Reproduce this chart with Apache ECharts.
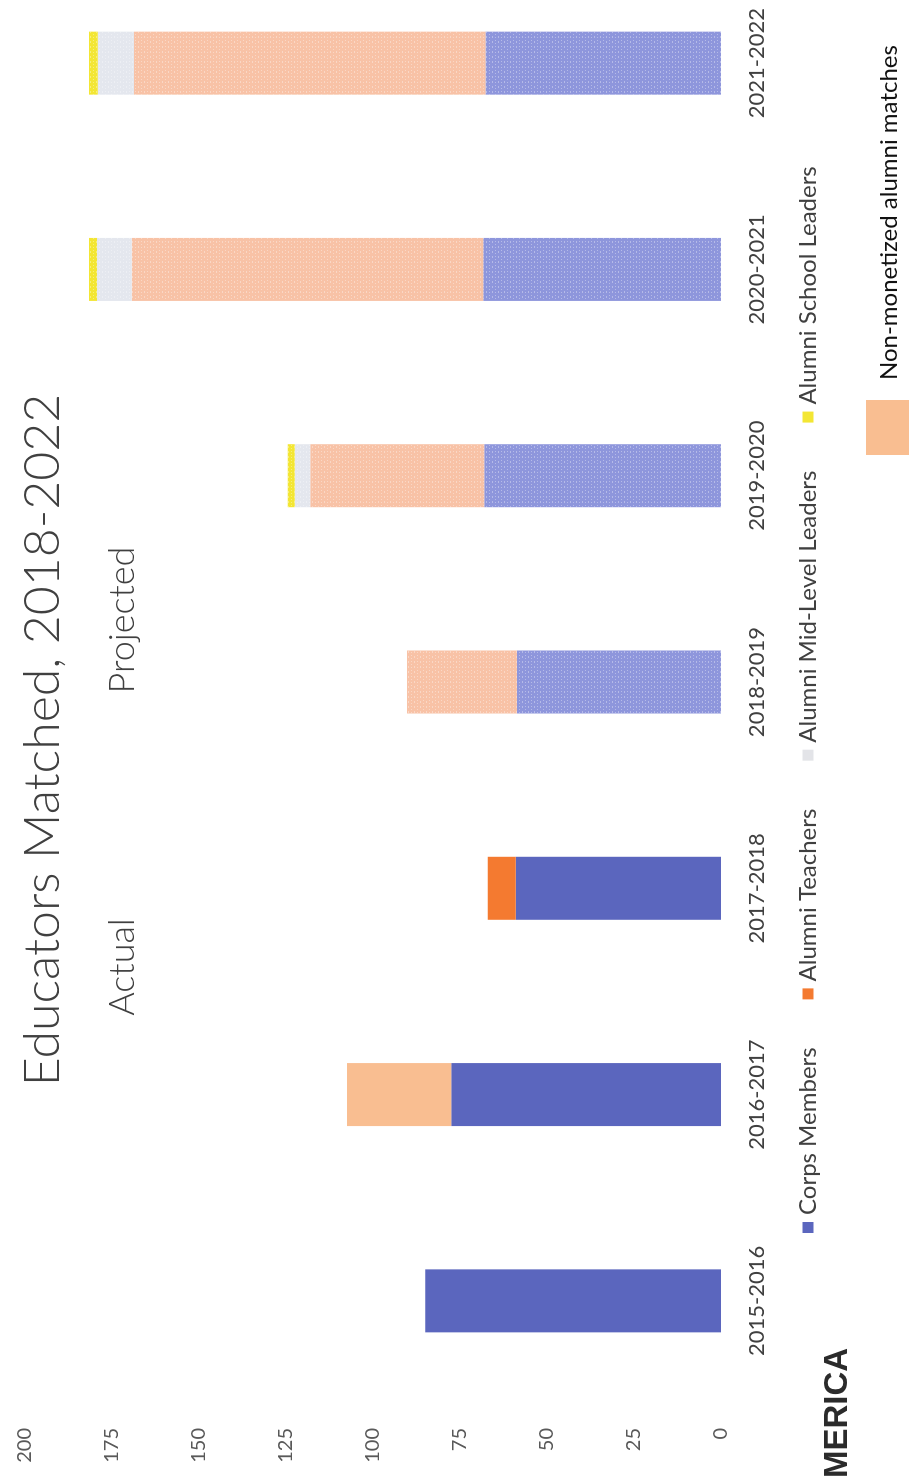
<!DOCTYPE html>
<html>
<head>
<meta charset="utf-8">
<script src="https://cdn.jsdelivr.net/npm/echarts@6/dist/echarts.min.js"></script>
<style>
  html, body { margin: 0; padding: 0; background: #ffffff; overflow: hidden; width: 909px; height: 1478px; }
  #chart { position: absolute; left: 0; top: 0; width: 1530px; height: 909px;
           transform-origin: 0 0; transform: translate(0px, 1478px) rotate(-90deg); }
</style>
</head>
<body>
<div id="chart"></div>
<script>
// ---- data ----
const categories = ['2015-2016', '2016-2017', '2017-2018', '2018-2019', '2019-2020', '2020-2021', '2021-2022'];
const corpsMembers = [85, 77.5, 59, 58.6, 68, 68.3, 67.7];
const alumniTeachers = [null, null, 8, null, null, null, null];
const nonMonetized = [null, 30, null, 31.6, 50, 101, 101];
const midLevelLeaders = [null, null, null, null, 4.5, 10, 10.4];
const schoolLeaders = [null, null, null, null, 2, 2.3, 2.5];
const valueTicks = [0, 25, 50, 75, 100, 125, 150, 175, 200];
const firstProjected = 3;

const FONT = 'Lato, "Open Sans", sans-serif';

const decal = {
  symbol: 'rect', symbolSize: 1, color: 'rgba(255,255,255,0.35)',
  dashArrayX: [[1, 2], [2, 3]], dashArrayY: [1, 2], rotation: 0
};

function items(values, actualColor, projColor) {
  return values.map((v, i) => ({
    value: v,
    itemStyle: i >= firstProjected ? { color: projColor, decal: decal } : { color: actualColor }
  }));
}

const seriesDefs = [
  { name: 'Corps Members', data: corpsMembers, c: '#5B66BE', p: '#8E96DC' },
  { name: 'Alumni Teachers', data: alumniTeachers, c: '#F47A30', p: '#F7A06C' },
  { name: 'Non-monetized alumni matches', data: nonMonetized, c: '#F9BE91', p: '#F8C2A6' },
  { name: 'Alumni Mid-Level Leaders', data: midLevelLeaders, c: '#E3E4E8', p: '#E4E7EE' },
  { name: 'Alumni School Leaders', data: schoolLeaders, c: '#F3E634', p: '#F3E634' }
];

const chart = echarts.init(document.getElementById('chart'), null, { renderer: 'canvas' });

chart.setOption({
  backgroundColor: '#ffffff',
  animation: false,
  title: {
    text: 'Educators Matched, 2018-2022',
    left: 733, top: 13, textAlign: 'center',
    textStyle: { fontFamily: FONT, fontWeight: 300, fontSize: 50, color: '#404040' }
  },
  legend: [
    {
      data: ['Corps Members', 'Alumni Teachers', 'Alumni Mid-Level Leaders', 'Alumni School Leaders'],
      left: 240, top: 791, orient: 'horizontal',
      itemWidth: 11, itemHeight: 11, itemGap: 48,
      icon: 'rect',
      textStyle: { fontFamily: FONT, fontSize: 24, color: '#404040', padding: [0, 0, 0, 2] }
    },
    {
      data: ['Non-monetized alumni matches'],
      left: 1018, top: 861,
      itemWidth: 55, itemHeight: 46, icon: 'rect',
      textStyle: { fontFamily: FONT, fontSize: 24, color: '#111111', padding: [0, 0, 0, 15] }
    }
  ],
  grid: { left: 74, top: 25, width: 1444, bottom: 188, containLabel: false },
  xAxis: {
    type: 'category',
    data: categories,
    boundaryGap: true,
    axisLine: { show: false },
    axisTick: { show: false },
    axisLabel: { fontFamily: FONT, fontSize: 22, color: '#404040', margin: 25 }
  },
  yAxis: {
    type: 'value',
    min: valueTicks[0], max: valueTicks[valueTicks.length - 1], interval: 25,
    splitLine: { show: false },
    axisLine: { show: false },
    axisTick: { show: false },
    axisLabel: { fontFamily: FONT, fontSize: 20, color: '#595959', margin: 24 }
  },
  graphic: [
    { type: 'text', x: 511, y: 122,
      style: { text: 'Actual', font: '300 36px ' + FONT, fill: '#404040', align: 'center', verticalAlign: 'middle' } },
    { type: 'text', x: 858, y: 122,
      style: { text: 'Projected', font: '300 36px ' + FONT, fill: '#404040', align: 'center', verticalAlign: 'middle' } },
    { type: 'text', x: 0, y: 838,
      style: { text: 'MERICA', font: '900 33px "Liberation Sans", Arial, sans-serif', fill: '#2b2b2b', align: 'left', verticalAlign: 'middle' } }
  ],
  series: seriesDefs.map(s => ({
    name: s.name,
    type: 'bar',
    stack: 'total',
    barWidth: 63,
    itemStyle: { color: s.c },
    data: items(s.data, s.c, s.p)
  }))
});
</script>
</body>
</html>
